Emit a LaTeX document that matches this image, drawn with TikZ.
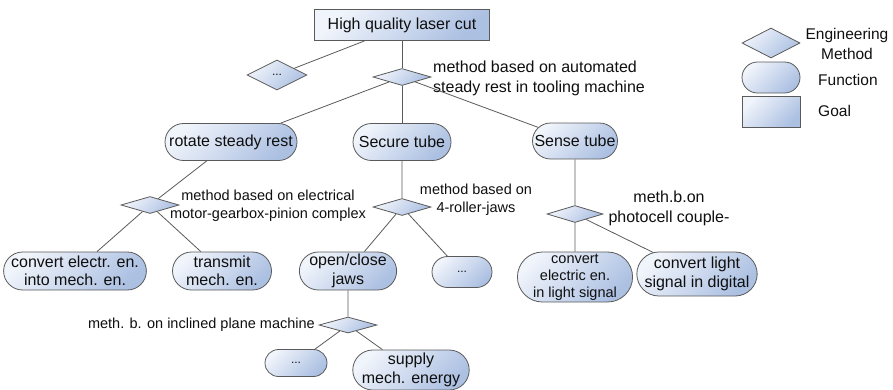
\documentclass[tikz,border=0pt]{standalone}
\usepackage{fontspec}
\setmainfont{Liberation Sans}
\usetikzlibrary{shapes.geometric,shapes.misc}
\definecolor{edgec}{RGB}{90,90,90}
\definecolor{fillL}{RGB}{240,244,251}
\definecolor{fillR}{RGB}{172,192,226}
\definecolor{txt}{RGB}{15,15,15}
\tikzset{
 base/.style={draw=edgec, line width=0.8pt, top color=fillL, bottom color=fillR, shading angle=45, inner sep=0pt, text=txt, align=center},
 goalbox/.style={base, rectangle, font=\fontsize{16}{18.5}\selectfont},
 func/.style={base, rounded rectangle, font=\fontsize{16}{18.5}\selectfont},
 funcs/.style={base, rounded rectangle, font=\fontsize{14.5}{17}\selectfont},
 meth/.style={base, diamond, font=\fontsize{12}{14}\selectfont},
 conn/.style={draw=edgec, line width=0.8pt},
 lbl/.style={text=txt, inner sep=0pt, font=\fontsize{16}{20}\selectfont},
 lbls/.style={text=txt, inner sep=0pt, font=\fontsize{14.5}{18}\selectfont},
 lgd/.style={text=txt, inner sep=0pt, font=\fontsize{15.5}{19.5}\selectfont},
}
\begin{document}
\begin{tikzpicture}[x=1pt,y=-1pt]
\useasboundingbox (0,0) rectangle (893,389);
% goal
\node[goalbox, minimum width=175, minimum height=31] (goal) at (402,25) {High quality laser cut};
% methods
\node[meth, minimum width=60, minimum height=30] (d0) at (277,75) {...};
\node[meth, minimum width=58, minimum height=17] (dm) at (402,77) {};
\node[lbl, anchor=west, align=left] (ldm) at (433,78) {method based on automated\\steady rest in tooling machine};
% level 1 functions
\node[func, minimum width=132, minimum height=37] (rot) at (231,142) {rotate steady rest};
\node[func, minimum width=98, minimum height=37] (sec) at (402,142) {Secure tube};
\node[func, minimum width=85, minimum height=36] (sen) at (575,141) {Sense tube};
% level 2 methods
\node[meth, minimum width=58, minimum height=17] (d2) at (150,205) {};
\node[lbls, align=center] (ld2) at (268,206) {method based on electrical\\motor-gearbox-pinion complex};
\node[meth, minimum width=58, minimum height=17] (d3) at (402,207) {};
\node[lbls, align=center] (ld3) at (476,200) {method based on\\4-roller-jaws};
\node[meth, minimum width=56, minimum height=17] (d4) at (575,214) {};
\node[lbl, align=center] (ld4) at (669,208) {meth.b.on\\photocell couple-};
% level 2 functions
\node[func, minimum width=130, minimum height=38] (ce) at (75,271) {convert electr. en.\\into mech. en.};
\node[func, minimum width=99, minimum height=38] (tr) at (222,271) {transmit\\mech. en.};
\node[func, minimum width=87, minimum height=38] (oc) at (348,271) {open/close\\jaws};
\node[meth, rounded rectangle, minimum width=60, minimum height=31] (f3) at (462,272) {...};
\node[funcs, minimum width=115, minimum height=50] (cel) at (575,277) {convert\\electric en.\\in light signal};
\node[func, minimum width=119, minimum height=44] (cl) at (697,274) {convert light\\signal in digital};
% level 3
\node[meth, minimum width=58, minimum height=16] (d5) at (348,325) {};
\node[lbls, anchor=east] (ld5) at (315,325) {meth. b. on inclined plane machine};
\node[meth, rounded rectangle, minimum width=62, minimum height=27] (f4) at (296,363) {...};
\node[func, minimum width=111, minimum height=40] (sup) at (411,370) {supply\\mech. energy};
% connectors
\draw[conn] (goal) -- (dm);
\draw[conn] (goal.203) -- (d0);
\draw[conn] (dm) -- (rot);
\draw[conn] (dm) -- (sec);
\draw[conn] (dm) -- (sen);
\draw[conn] (rot) -- (d2);
\draw[conn] (d2) -- (ce);
\draw[conn] (d2) -- (tr);
\draw[conn] (sec) -- (d3);
\draw[conn] (d3) -- (oc);
\draw[conn] (d3) -- (f3);
\draw[conn] (sen) -- (d4);
\draw[conn] (d4) -- (cel);
\draw[conn] (d4) -- (cl);
\draw[conn] (oc) -- (d5);
\draw[conn] (d5) -- (f4);
\draw[conn] (d5) -- (sup);
% legend
\node[meth, minimum width=58, minimum height=30] (ld) at (771,43) {};
\node[func, minimum width=58, minimum height=31] (lf) at (771,77.5) {};
\node[goalbox, minimum width=58, minimum height=31] (lg) at (771,112) {};
\node[lgd, align=center] (tld) at (847,44) {Engineering\\Method};
\node[lgd, anchor=west] (tlf) at (818,80) {Function};
\node[lgd, anchor=west] (tlg) at (818,111) {Goal};
\end{tikzpicture}
\end{document}
